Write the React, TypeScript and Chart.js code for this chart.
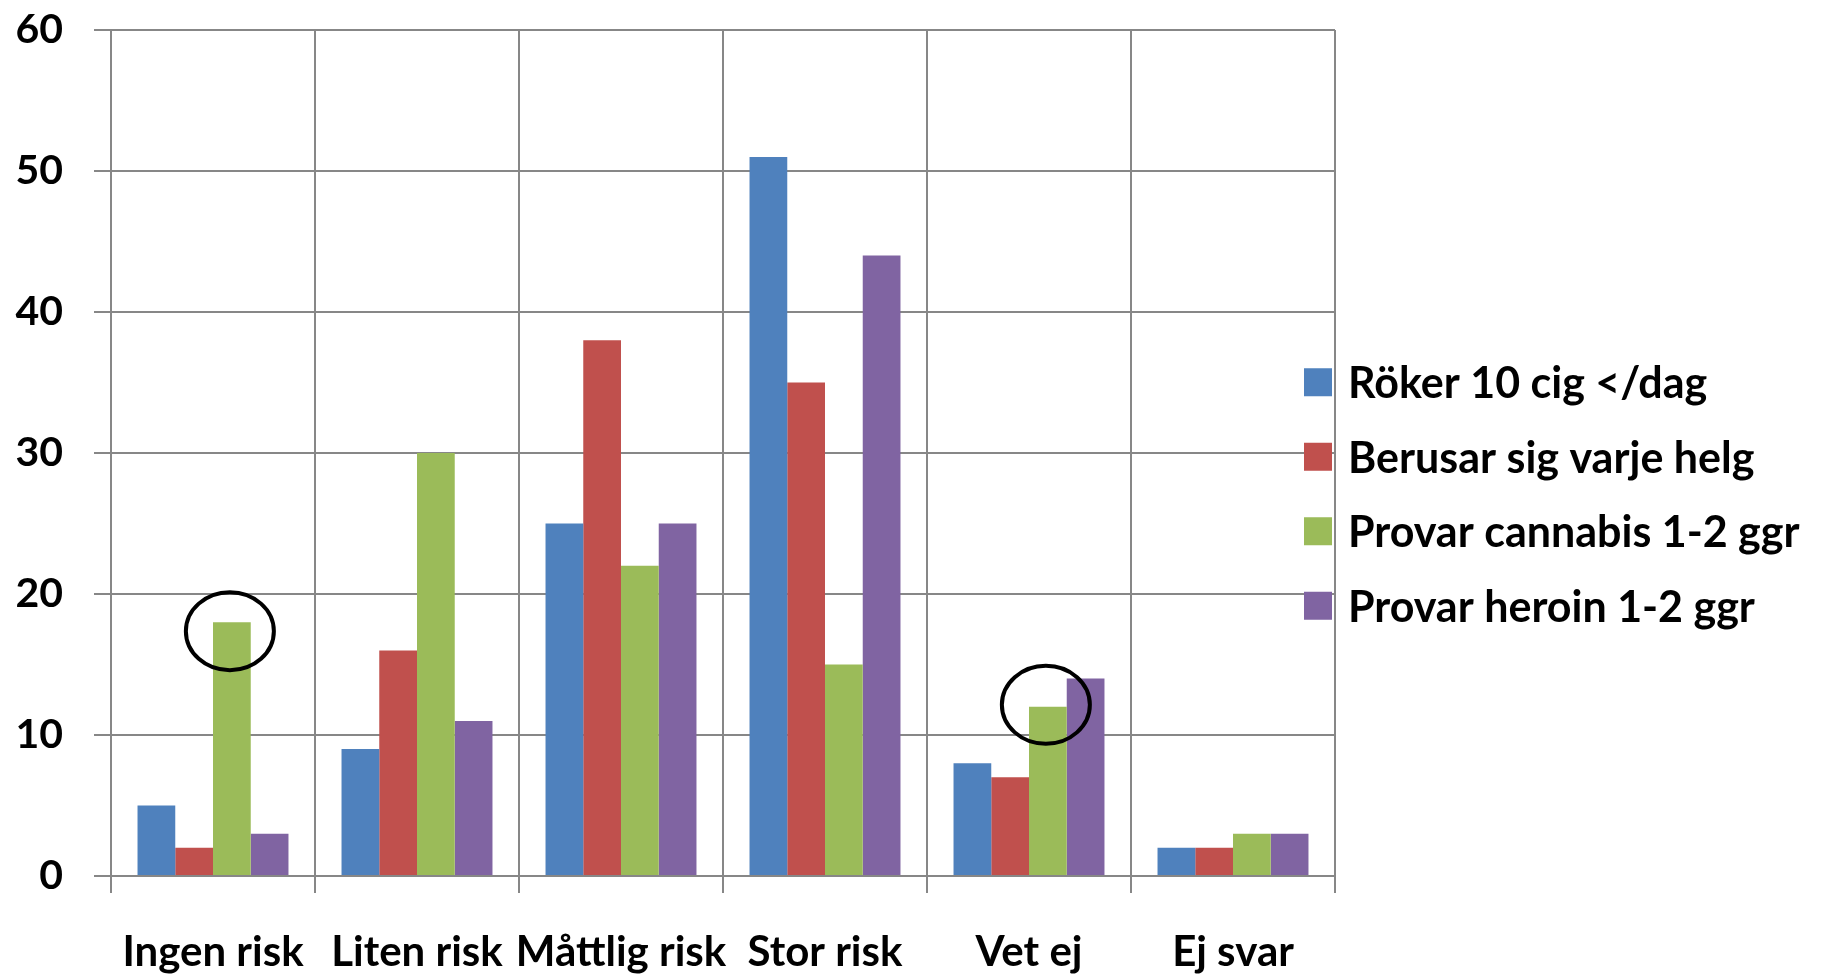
import React, { useEffect, useRef } from "react";
import { Chart, registerables } from "chart.js";

Chart.register(...registerables);

const categories = ["Ingen risk", "Liten risk", "Måttlig risk", "Stor risk", "Vet ej", "Ej svar"];
const seriesLabels = ["Röker 10 cig </dag", "Berusar sig varje helg", "Provar cannabis 1-2 ggr", "Provar heroin 1-2 ggr"];
const rokerValues = [5, 9, 25, 51, 8, 2];
const berusarValues = [2, 16, 38, 35, 7, 2];
const cannabisValues = [18, 30, 22, 15, 12, 3];
const heroinValues = [3, 11, 25, 44, 14, 3];
const seriesColors = ["#4F81BD", "#C0504D", "#9BBB59", "#8064A2"];
const yMin = 0;
const yMax = 60;
const yStep = 10;
const circledSeriesIndex = 2;
const circledCategories = ["Ingen risk", "Vet ej"];
const circleOffsetsY = [9, -2];

const FONT = "Lato, 'Noto Sans', sans-serif";
const GRID = "#878787";

const ellipsePlugin = {
  id: "ellipses",
  afterDatasetsDraw(chart: any) {
    const meta = chart.getDatasetMeta(circledSeriesIndex);
    const ctx = chart.ctx;
    ctx.save();
    ctx.strokeStyle = "#000";
    ctx.lineWidth = 4;
    circledCategories.forEach((c, k) => {
      const idx = categories.indexOf(c);
      const el = meta.data[idx];
      if (!el) return;
      ctx.beginPath();
      ctx.ellipse(el.x - 2, el.y + circleOffsetsY[k], 44, 39, 0, 0, Math.PI * 2);
      ctx.stroke();
    });
    ctx.restore();
  },
};

const legendPlugin = {
  id: "customLegend",
  afterDraw(chart: any) {
    const ctx = chart.ctx;
    const area = chart.chartArea;
    const n = chart.data.datasets.length;
    const rowH = 74.5;
    const centerY = chart.height / 2 + 5;
    const startY = centerY - ((n - 1) * rowH) / 2;
    const boxSize = 28;
    const boxX = area.right - 31;
    const textX = area.right + 13;
    ctx.save();
    ctx.font = `bold 43px ${FONT}`;
    ctx.textBaseline = "middle";
    ctx.textAlign = "left";
    chart.data.datasets.forEach((ds: any, i: number) => {
      const y = startY + i * rowH;
      ctx.fillStyle = ds.backgroundColor;
      ctx.fillRect(boxX, y - boxSize / 2, boxSize, boxSize);
      ctx.fillStyle = "#000";
      ctx.fillText(ds.label, textX, y + 2);
    });
    ctx.restore();
  },
};

export default function App() {
  const ref = useRef<HTMLCanvasElement | null>(null);

  useEffect(() => {
    if (!ref.current) return;
    const seriesValues = [rokerValues, berusarValues, cannabisValues, heroinValues];
    const chart = new Chart(ref.current, {
      type: "bar",
      data: {
        labels: categories,
        datasets: seriesValues.map((vals, i) => ({
          label: seriesLabels[i],
          data: vals,
          backgroundColor: seriesColors[i],
          borderWidth: 0,
          barPercentage: 1,
          categoryPercentage: 0.74,
        })),
      },
      options: {
        responsive: false,
        animation: false,
        devicePixelRatio: 1,
        layout: { padding: { top: 30, right: 486, bottom: 0, left: 0 } },
        plugins: {
          legend: { display: false },
          tooltip: { enabled: false },
          title: { display: false },
        },
        scales: {
          x: {
            offset: true,
            grid: { offset: true, color: GRID, lineWidth: 2, tickLength: 17, drawTicks: true },
            border: { color: GRID, width: 2 },
            ticks: { color: "#000", font: { family: FONT, size: 42, weight: "bold" }, padding: 34, maxRotation: 0, autoSkip: false },
            afterFit: (s: any) => {
              s.height = 102;
            },
          },
          y: {
            min: yMin,
            max: yMax,
            grid: { color: GRID, lineWidth: 2, tickLength: 17 },
            border: { color: GRID, width: 2 },
            ticks: { stepSize: yStep, color: "#000", font: { family: FONT, size: 41, weight: "bold" }, padding: 31 },
            afterFit: (s: any) => {
              s.width = 111;
              s.paddingTop = 0;
              s.paddingBottom = 0;
            },
          },
        },
      },
      plugins: [ellipsePlugin, legendPlugin],
    });
    return () => chart.destroy();
  }, []);

  return (
    <div style={{ position: "absolute", left: 0, top: 0, width: 1821, height: 978, background: "#fff" }}>
      <canvas ref={ref} width={1821} height={978} style={{ display: "block" }} />
    </div>
  );
}
